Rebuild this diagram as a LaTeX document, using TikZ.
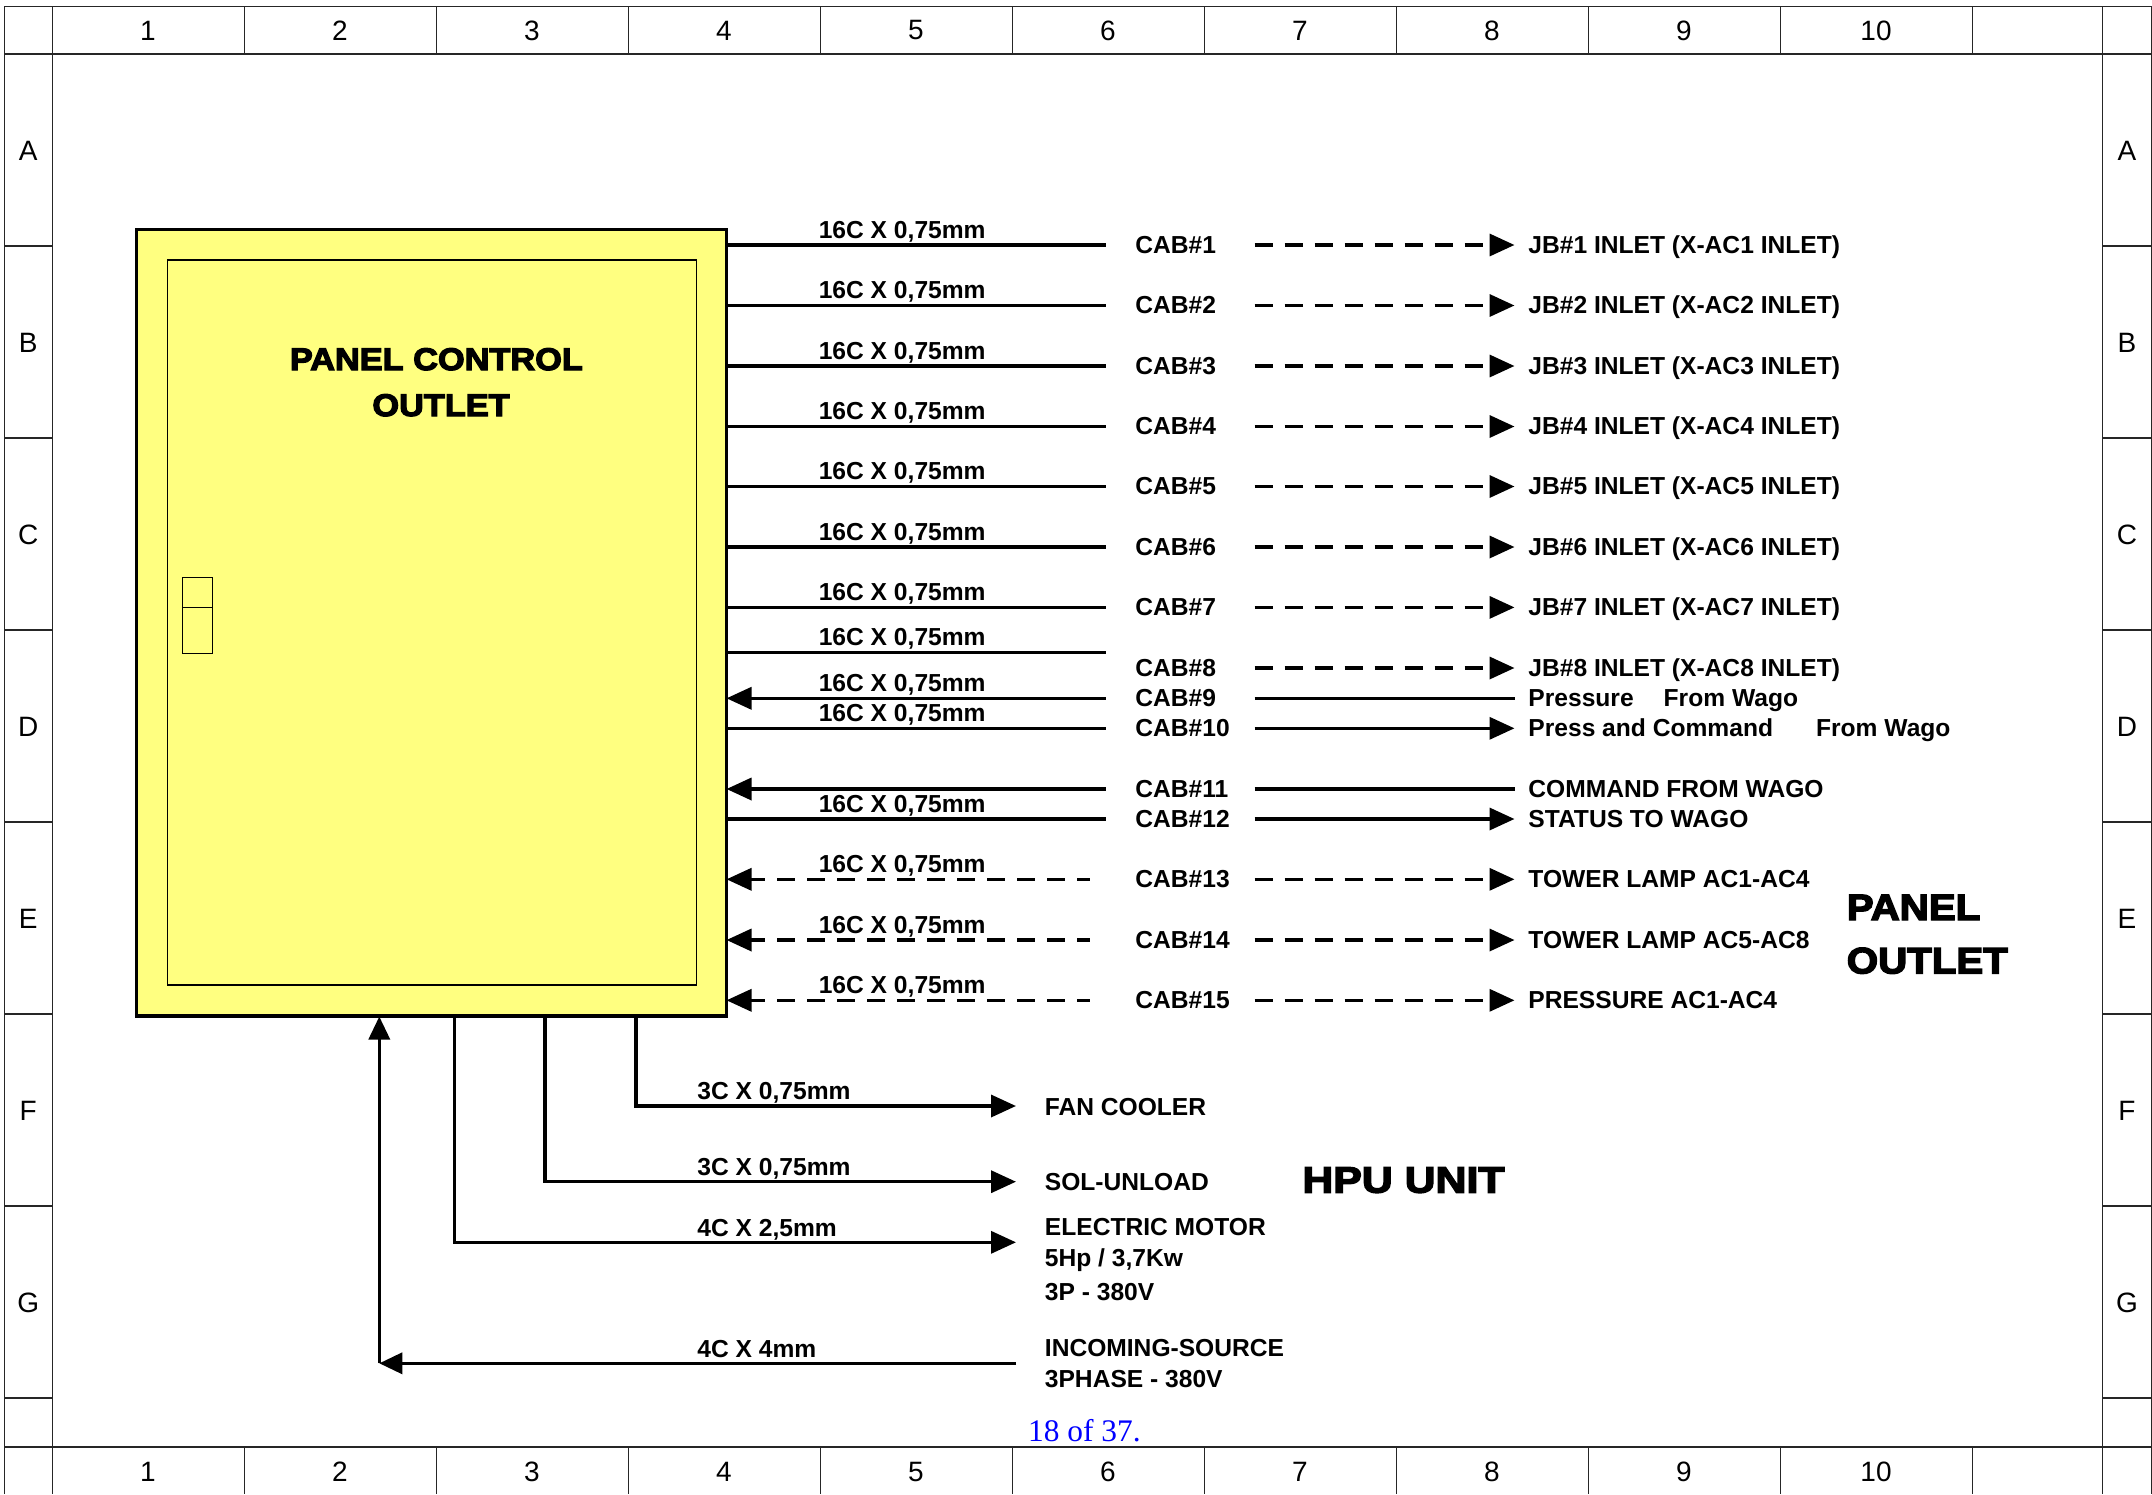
\documentclass[tikz,border=0pt]{standalone}
\usepackage{fontspec}
\setmainfont{Liberation Sans}
\newfontfamily\serifblue{Liberation Serif}
\newfontfamily\heavyfont{Liberation Sans}[UprightFont=* Bold,FakeBold=4,FakeStretch=1.1]
\newfontfamily\heavywide{Liberation Sans}[UprightFont=* Bold,FakeBold=4,FakeStretch=1.17]
\usetikzlibrary{arrows.meta}
\definecolor{panelyellow}{HTML}{FFFF80}
\tikzset{
  gridline/.style={line width=0.6pt,black!85},
  border/.style={inner sep=0pt,font=\fontsize{14}{16}\selectfont},
  wire/.style={line width=1.75pt},
  dashwire/.style={line width=1.75pt,dash pattern=on 9pt off 6pt},
  tipend/.style={-{Triangle[length=12.5pt,width=11pt]}},
  tipstart/.style={{Triangle[length=12.5pt,width=11pt]}-},
  txt/.style={anchor=base west,inner sep=0pt,font=\fontsize{12.3}{14}\bfseries\selectfont},
  heavy/.style={anchor=base west,inner sep=0pt},
  boxline/.style={draw=black,inner sep=0pt,outer sep=0pt,fill=panelyellow},
}
\newcommand\cablesize{16C X 0,75mm}
\begin{document}
\begin{tikzpicture}[x=0.5pt,y=-0.5pt]
\useasboundingbox (0,0) rectangle (2152,1494);
\fill[white] (0,0) rectangle (2152,1494);
% frame
\draw[gridline] (4.7,1494) -- (4.7,6.5) -- (2151.4,6.5) -- (2151.4,1494);
\draw[gridline] (52.6,6.5) -- (52.6,1494);
\draw[gridline] (2102.7,6.5) -- (2102.7,1494);
\draw[gridline] (4.7,54) -- (2151.4,54);
\draw[gridline] (4.7,1447) -- (2151.4,1447);
\foreach \xx in {244.5,436.5,628.5,820.5,1012.5,1204.5,1396.5,1588.5,1780.3,1972.3} {
  \draw[gridline] (\xx,6.5) -- (\xx,54);
  \draw[gridline] (\xx,1447) -- (\xx,1494);
}
\foreach \yy in {246,438,630,822,1014,1206,1398} {
  \draw[gridline] (4.7,\yy) -- (52.6,\yy);
  \draw[gridline] (2102.7,\yy) -- (2151.4,\yy);
}
\foreach \n/\xx in {1/148,2/340,3/532,4/724,5/916,6/1108,7/1300,8/1492,9/1684,10/1876} {
  \node[border] (topcol\n) at (\xx,30.5) {\n};
  \node[border] (botcol\n) at (\xx,1472) {\n};
}
\foreach \l/\yy in {A/151,B/343,C/535,D/727,E/919,F/1111,G/1303} {
  \node[border] (leftrow\l) at (28.3,\yy) {\l};
  \node[border] (rightrow\l) at (2127,\yy) {\l};
}
% panel
\node[boxline,line width=1.8pt,minimum width=295pt,minimum height=393.2pt] (panel) at (431.6,622.5) {};
\node[boxline,line width=0.55pt,minimum width=264.5pt,minimum height=362.5pt] (door) at (431.8,622.5) {};
\node[boxline,line width=0.55pt,minimum width=15.2pt,minimum height=15pt] (lockA) at (197.5,592.3) {};
\node[boxline,line width=0.55pt,minimum width=15.2pt,minimum height=23pt] (lockB) at (197.5,630.3) {};
\node[heavy,font=\fontsize{15.6}{18}\heavyfont] (ttlA) at (289.5,370) {PANEL CONTROL};
\node[heavy,font=\fontsize{15.6}{18}\heavyfont] (ttlB) at (372,416) {OUTLET};
% cables with cross-section labels
\foreach \n/\yy/\tx in {
  1/245/JB\#1 INLET (X-AC1 INLET),
  2/305.5/JB\#2 INLET (X-AC2 INLET),
  3/366/JB\#3 INLET (X-AC3 INLET),
  4/426.5/JB\#4 INLET (X-AC4 INLET),
  5/486.5/JB\#5 INLET (X-AC5 INLET),
  6/547/JB\#6 INLET (X-AC6 INLET),
  7/607.4/JB\#7 INLET (X-AC7 INLET),
  8/668/JB\#8 INLET (X-AC8 INLET),
  9/698.3/Pressure\hspace{15pt}From Wago,
  10/728.3/Press and Command\hspace{21.5pt}From Wago,
  11/789/COMMAND FROM WAGO,
  12/819/STATUS TO WAGO,
  13/879.3/TOWER LAMP AC1-AC4,
  14/940/TOWER LAMP AC5-AC8,
  15/1000.3/PRESSURE AC1-AC4} {
  \node[txt] (cab\n) at (1135,\yy+8.3) {CAB\#\n};
  \node[txt] (dest\n) at (1528,\yy+8.3) {\tx};
  \coordinate (rs\n) at (1254.6,\yy);
  \coordinate (re\n) at (1514.5,\yy);
  \coordinate (ls\n) at (726.5,\yy);
  \coordinate (le\n) at (1105.6,\yy);
  \coordinate (led\n) at (1090,\yy);
}
\coordinate (ls8) at (726.5,652.7);
\coordinate (le8) at (1105.6,652.7);
\foreach \n in {1,2,3,4,5,6,7,8,10,12} \draw[wire] (ls\n) -- (le\n);
\foreach \n in {9,11} \draw[wire,tipstart] (ls\n) -- (le\n);
\foreach \n in {13,14,15} \draw[dashwire,tipstart,dash phase=1.6pt] (ls\n) -- (led\n);
\foreach \n in {1,2,3,4,5,6,7,8,13,14,15} \draw[dashwire,tipend] (rs\n) -- (re\n);
\foreach \n in {10,12} \draw[wire,tipend] (rs\n) -- (re\n);
\foreach \n in {9,11} \draw[wire] (rs\n) -- (re\n);
\foreach \n/\yy in {1/245,2/305.5,3/366,4/426.5,5/486.5,6/547,7/607.4,8/652.7,9/698.3,10/728.3,12/819,13/879.3,14/940,15/1000.3}
  \node[txt] (size\n) at (818.4,\yy-6.8) {\cablesize};
% HPU
\coordinate (fanS) at (636,1016);
\coordinate (fanC) at (636,1106);
\coordinate (fanE) at (1016,1106);
\coordinate (solS) at (545,1016);
\coordinate (solC) at (545,1181.7);
\coordinate (solE) at (1016,1181.7);
\coordinate (motS) at (454.4,1016);
\coordinate (motC) at (454.4,1242.3);
\coordinate (motE) at (1016,1242.3);
\coordinate (srcS) at (1016,1363.3);
\coordinate (srcC) at (379.3,1363.3);
\coordinate (srcE) at (379.3,1016.5);
\draw[wire,line join=miter,tipend] (fanS) -- (fanC) -- (fanE);
\draw[wire,line join=miter,tipend] (solS) -- (solC) -- (solE);
\draw[wire,line join=miter,tipend] (motS) -- (motC) -- (motE);
\draw[wire,-{Triangle[length=11.5pt,width=10.5pt]}] (srcC) -- (srcE);
\draw[wire,-{Triangle[length=11.5pt,width=10.5pt]}] (srcS) -- (srcC);
\node[txt] (sizeFan) at (697,1099.5) {3C X 0,75mm};
\node[txt] (sizeSol) at (697,1175) {3C X 0,75mm};
\node[txt] (sizeMot) at (697,1236) {4C X 2,5mm};
\node[txt] (sizeSrc) at (697,1357) {4C X 4mm};
\node[txt] (fan) at (1044.5,1115) {FAN COOLER};
\node[txt] (sol) at (1044.5,1190.5) {SOL-UNLOAD};
\node[txt] (motorA) at (1044.5,1235.5) {ELECTRIC MOTOR};
\node[txt] (motorB) at (1044.5,1266.5) {5Hp / 3,7Kw};
\node[txt] (motorC) at (1044.5,1300) {3P - 380V};
\node[txt] (srcA) at (1044.5,1356.5) {INCOMING-SOURCE};
\node[txt] (srcB) at (1044.5,1387.5) {3PHASE - 380V};
\node[heavy,font=\fontsize{18.3}{21}\heavywide] (hpu) at (1302,1192.5) {HPU UNIT};
\node[heavy,font=\fontsize{18.3}{21}\heavyfont] (outA) at (1846.4,920) {PANEL};
\node[heavy,font=\fontsize{18.3}{21}\heavyfont] (outB) at (1846.4,973.3) {OUTLET};
\node[anchor=base west,inner sep=0pt,text=blue,font=\fontsize{15.7}{18}\serifblue] (page) at (1027.7,1441.7) {18 of 37.};
\end{tikzpicture}
\end{document}
